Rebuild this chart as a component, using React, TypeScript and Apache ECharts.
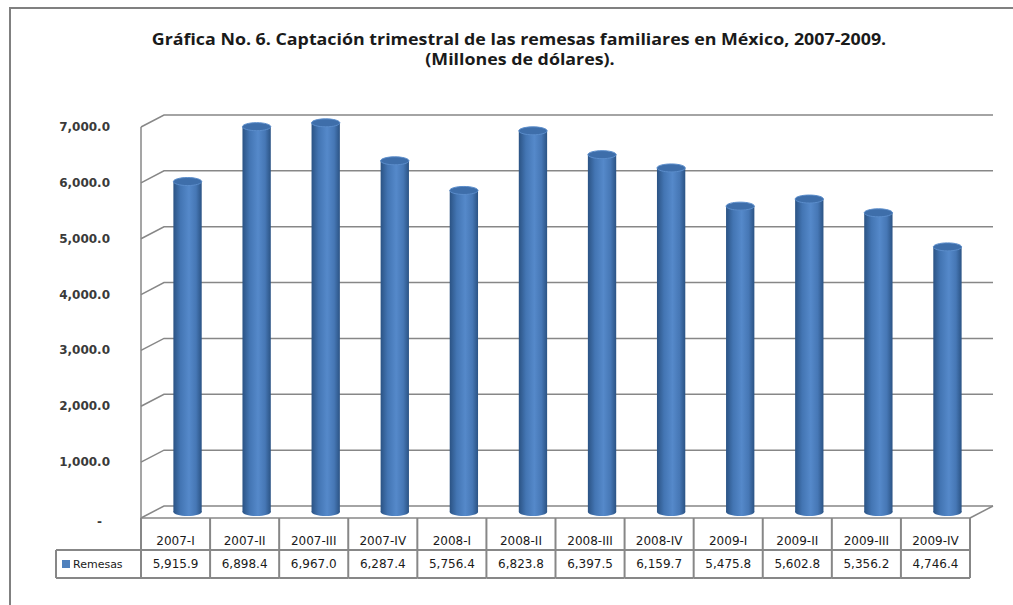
import React, { useEffect, useRef } from "react";
import * as echarts from "echarts";

const categories = ["2007-I", "2007-II", "2007-III", "2007-IV", "2008-I", "2008-II", "2008-III", "2008-IV", "2009-I", "2009-II", "2009-III", "2009-IV"];
const values = [5915.9, 6898.4, 6967.0, 6287.4, 5756.4, 6823.8, 6397.5, 6159.7, 5475.8, 5602.8, 5356.2, 4746.4];
const yTicks = [0, 1000, 2000, 3000, 4000, 5000, 6000, 7000];
const seriesName = "Remesas";
const titleLines = [
  "Gráfica No. 6. Captación trimestral de las remesas familiares en México, 2007-2009.",
  "(Millones de dólares).",
];

const DX = 23;
const DY = 12;
const LINE = "#878787";
const fmt = (v: number) =>
  v.toLocaleString("en-US", { minimumFractionDigits: 1, maximumFractionDigits: 1 });

export default function App() {
  const ref = useRef<HTMLDivElement>(null);
  useEffect(() => {
    if (!ref.current) return;
    const chart = echarts.init(ref.current, null, { renderer: "svg" });

    const bodyGrad = () =>
      new echarts.graphic.LinearGradient(0, 0, 1, 0, [
        { offset: 0, color: "#2B5384" },
        { offset: 0.25, color: "#4375B3" },
        { offset: 0.55, color: "#5589CA" },
        { offset: 0.8, color: "#4677B5" },
        { offset: 1, color: "#2B5384" },
      ]);

    const titleStyle = {
      align: "center",
      verticalAlign: "middle",
      fill: "#1a1a1a",
      fontFamily: "Open Sans",
      fontWeight: "bold",
      fontSize: 15.5,
    };

    const option: any = {
      animation: false,
      backgroundColor: "#ffffff",
      grid: { left: 141, right: 43, top: 127, bottom: 87 },
      xAxis: {
        type: "category",
        data: categories,
        axisLabel: { show: false },
        axisLine: { show: false },
        axisTick: { show: false },
        splitLine: { show: false },
      },
      yAxis: {
        type: "value",
        min: 0,
        max: 7000,
        interval: 1000,
        axisLine: { show: false },
        axisTick: { show: false },
        splitLine: { show: false },
        axisLabel: {
          margin: 31,
          color: "#3a3a3a",
          fontFamily: "DejaVu Sans",
          fontWeight: "bold",
          fontSize: 12,
          formatter: (v: number) => (v === 0 ? "{d|-}" : fmt(v)),
          rich: { d: { padding: [8, 8, 0, 0], color: "#3a3a3a", fontFamily: "DejaVu Sans", fontWeight: "bold", fontSize: 12 } },
        },
      },
      graphic: [
        {
          type: "rect",
          x: 10,
          y: 8,
          shape: { x: 0, y: 0, width: 1100, height: 700 },
          style: { fill: "none", stroke: "#808080", lineWidth: 2 },
          silent: true,
        },
        {
          type: "text",
          x: 519,
          y: 39,
          scaleX: 1.15,
          style: { ...titleStyle, text: titleLines[0] },
        },
        {
          type: "text",
          x: 520,
          y: 59,
          scaleX: 1.15,
          style: { ...titleStyle, text: titleLines[1] },
        },
      ],
      series: [
        {
          type: "custom",
          name: "walls",
          z: 1,
          silent: true,
          data: yTicks.map((v) => [0, v]),
          renderItem: (params: any, api: any) => {
            const v = api.value(1);
            const cs = params.coordSys;
            const x0 = cs.x;
            const xr = cs.x + cs.width;
            const y = api.coord([0, v])[1];
            const st = { stroke: LINE, lineWidth: 1.5, fill: "none" };
            const children: any[] = [
              {
                type: "polyline",
                shape: { points: [[x0, y], [x0 + DX, y - DY], [xr + DX, y - DY]] },
                style: st,
              },
            ];
            if (v === 0) {
              const yTop = api.coord([0, yTicks[yTicks.length - 1]])[1];
              children.push(
                { type: "line", shape: { x1: x0, y1: y, x2: xr, y2: y }, style: st },
                { type: "line", shape: { x1: xr, y1: y, x2: xr + DX, y2: y - DY }, style: st },
                { type: "line", shape: { x1: x0, y1: y, x2: x0, y2: yTop }, style: st }
              );
            }
            return { type: "group", children };
          },
        },
        {
          type: "custom",
          name: seriesName,
          z: 5,
          data: values.map((v, i) => [i, v]),
          renderItem: (params: any, api: any) => {
            const i = api.value(0);
            const v = api.value(1);
            const top = api.coord([i, v]);
            const base = api.coord([i, 0]);
            const bw = api.size([1, 0])[0];
            const rx = bw * 0.205;
            const ry = 4;
            const cx = top[0] + DX / 2 + 0.5;
            const yt = top[1] - DY / 2;
            const yb = base[1] - DY / 2;
            return {
              type: "group",
              children: [
                { type: "ellipse", shape: { cx, cy: yb, rx, ry }, style: { fill: bodyGrad() } },
                { type: "rect", shape: { x: cx - rx, y: yt, width: rx * 2, height: yb - yt }, style: { fill: bodyGrad() } },
                {
                  type: "ellipse",
                  shape: { cx, cy: yt, rx, ry },
                  style: { fill: "#3E6EAA", stroke: "#5B8DCB", lineWidth: 1 },
                },
              ],
            };
          },
        },
        {
          type: "custom",
          name: "table",
          z: 3,
          silent: true,
          data: values.map((v, i) => [i, v]),
          renderItem: (params: any, api: any) => {
            const i = api.value(0);
            const v = api.value(1);
            const base = api.coord([i, 0]);
            const bw = api.size([1, 0])[0];
            const xl = base[0] - bw / 2;
            const xr = xl + bw;
            const y0 = base[1];
            const y1 = y0 + 32;
            const y2 = y0 + 60;
            const st = { stroke: LINE, lineWidth: 2, fill: "none" };
            const tf = { fontFamily: "DejaVu Sans", fontSize: 12, fill: "#1a1a1a", align: "center" };
            const children: any[] = [
              { type: "line", shape: { x1: xl, y1: y0, x2: xl, y2: y2 }, style: st },
              { type: "line", shape: { x1: xl, y1: y1, x2: xr, y2: y1 }, style: st },
              { type: "line", shape: { x1: xl, y1: y2, x2: xr, y2: y2 }, style: st },
              {
                type: "text",
                style: { ...tf, text: categories[params.dataIndex], x: base[0], y: y0 + 23, verticalAlign: "middle" },
              },
              {
                type: "text",
                style: { ...tf, text: fmt(v), x: base[0], y: (y1 + y2) / 2, verticalAlign: "middle" },
              },
            ];
            if (params.dataIndex === values.length - 1) {
              children.push({ type: "line", shape: { x1: xr, y1: y0, x2: xr, y2: y2 }, style: st });
            }
            if (params.dataIndex === 0) {
              const lx = xl - 85;
              children.push(
                { type: "line", shape: { x1: lx, y1: y1, x2: xl, y2: y1 }, style: st },
                { type: "line", shape: { x1: lx, y1: y2, x2: xl, y2: y2 }, style: st },
                { type: "line", shape: { x1: lx, y1: y1, x2: lx, y2: y2 }, style: st },
                { type: "rect", shape: { x: lx + 6, y: (y1 + y2) / 2 - 4, width: 8, height: 8 }, style: { fill: "#4F81BD" } },
                {
                  type: "text",
                  style: {
                    text: seriesName,
                    x: lx + 17,
                    y: (y1 + y2) / 2,
                    align: "left",
                    verticalAlign: "middle",
                    fontFamily: "DejaVu Sans",
                    fontSize: 11,
                    fill: "#1a1a1a",
                  },
                }
              );
            }
            return { type: "group", children };
          },
        },
      ],
    };
    chart.setOption(option);
    return () => chart.dispose();
  }, []);
  return (
    <div
      ref={ref}
      style={{ width: 1013, height: 605, position: "absolute", left: 0, top: 0, background: "#fff" }}
    />
  );
}
